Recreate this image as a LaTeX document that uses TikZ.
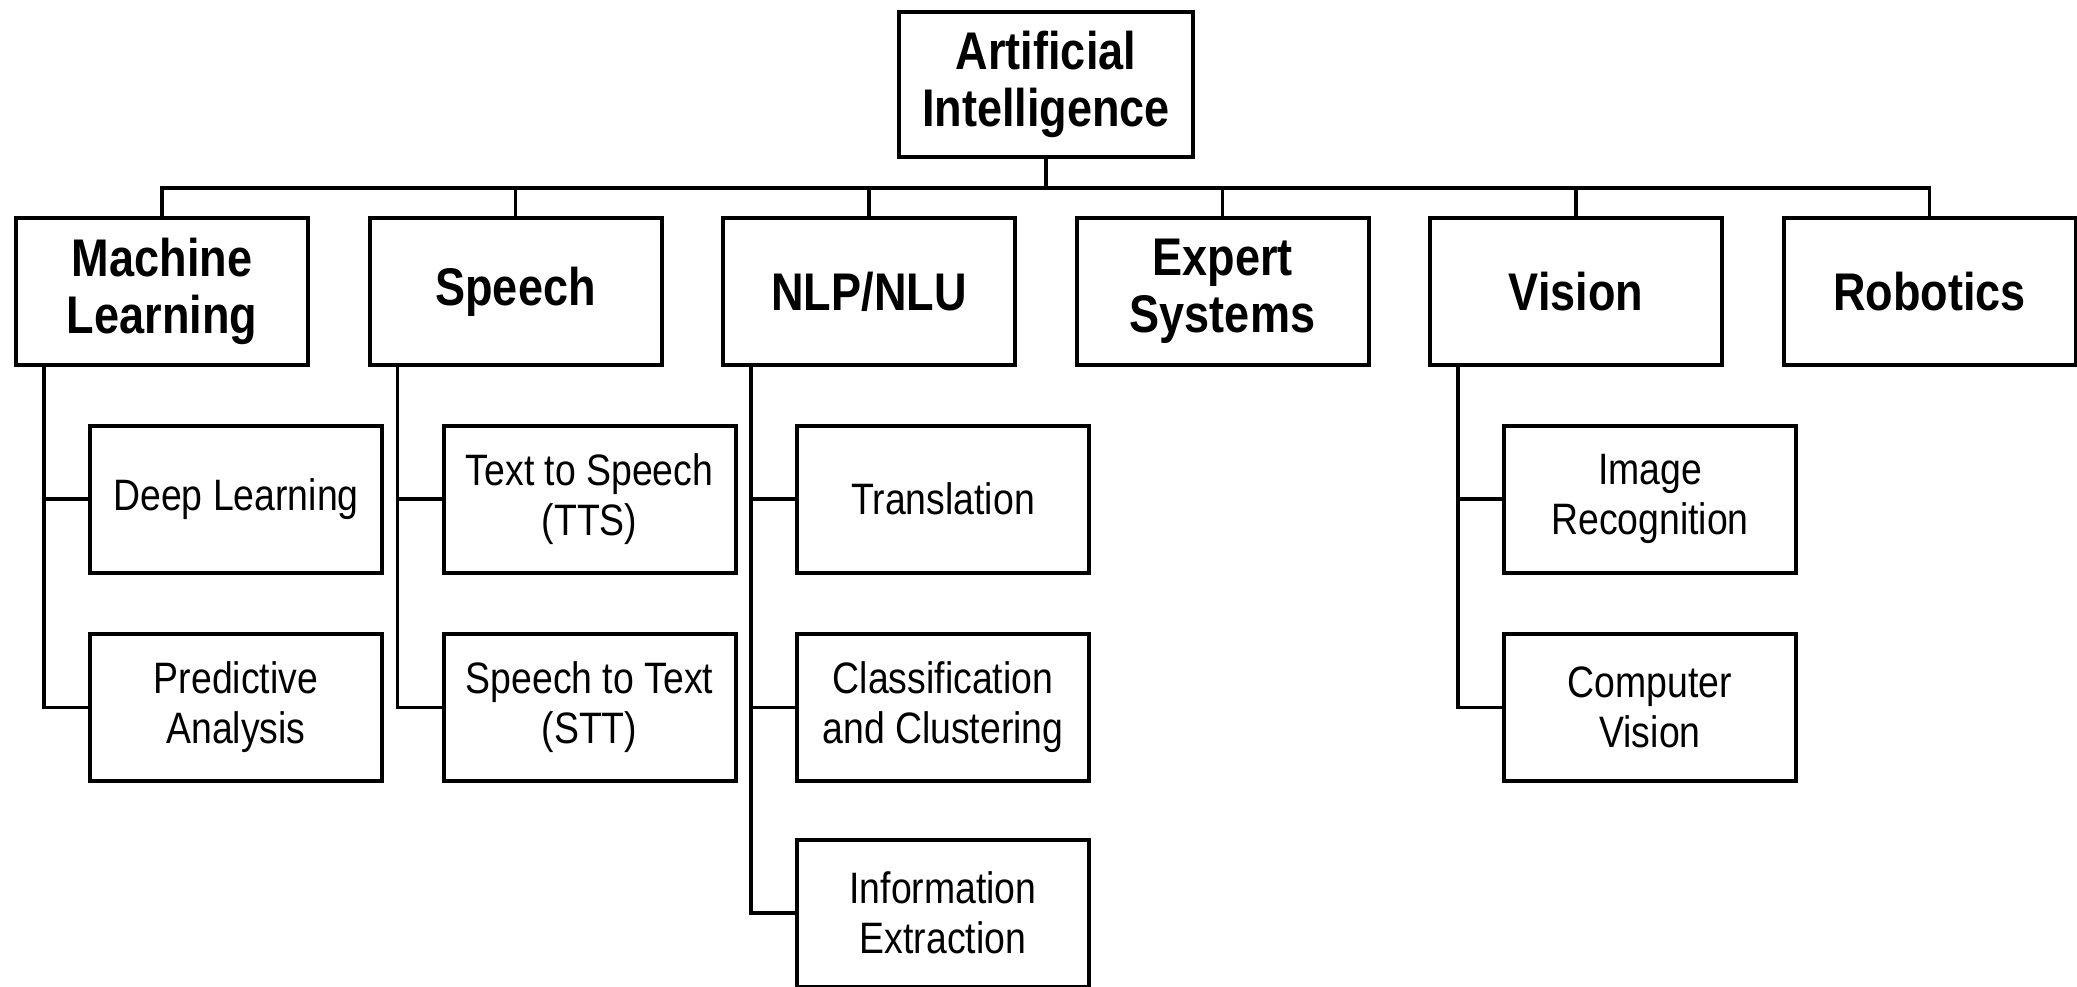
\documentclass[tikz,border=0pt]{standalone}
\usepackage{fontspec}
\setmainfont{Liberation Sans}[FakeStretch=0.85]
\usetikzlibrary{calc}

\tikzset{
  box/.style={draw=black, line width=4bp, fill=white, rectangle, inner sep=0pt,
    outer sep=0pt, minimum width=292bp, align=center},
  topbox/.style={box, minimum height=147bp,
    font=\fontsize{53bp}{57bp}\selectfont\bfseries},
  rootbox/.style={box, minimum width=294bp, minimum height=145bp,
    font=\fontsize{53bp}{57bp}\selectfont\bfseries},
  subbox/.style={box, minimum height=147bp,
    font=\fontsize{44bp}{50bp}\selectfont},
  link/.style={draw=black, line width=3.6bp, line join=miter}
}

\begin{document}
\begin{tikzpicture}[x=1bp, y=-1bp]
  \useasboundingbox[fill=white] (0,0) rectangle (2077,987);

  % root
  \node[rootbox] (ai) at (1046,84) {Artificial\\Intelligence};

  % first level
  \node[topbox] (ml)  at (162,291.5)    {Machine\\Learning};
  \node[topbox] (sp)  at (515.5,291.5)  {Speech};
  \node[topbox] (nlp) at (869,291.5)    {NLP/NLU};
  \node[topbox] (es)  at (1222.5,291.5) {Expert\\Systems};
  \node[topbox] (vis) at (1576,291.5)   {Vision};
  \node[topbox] (rob) at (1929.5,291.5) {Robotics};

  % second level
  \node[subbox] (dl)  at (236,499)     {Deep Learning};
  \node[subbox] (pa)  at (236,707.5)   {Predictive\\Analysis};
  \node[subbox] (tts) at (589.5,499)   {Text to Speech\\(TTS)};
  \node[subbox] (stt) at (589.5,707.5) {Speech to Text\\(STT)};
  \node[subbox] (tr)  at (943,499)     {Translation};
  \node[subbox] (cc)  at (943,707.5)   {Classification\\and Clustering};
  \node[subbox] (ie)  at (943,913)     {Information\\Extraction};
  \node[subbox] (ir)  at (1650,499)    {Image\\Recognition};
  \node[subbox] (cv)  at (1650,707.5)  {Computer\\Vision};

  % distribution bar under the root
  \coordinate (bar) at ($(ml.north)+(0,-30)$);
  \draw[link] (ml.north) -- (bar) -| (rob.north);
  \draw[link] (ai.south) -- (ai.south |- bar);
  \foreach \n in {sp,nlp,es,vis}
    \draw[link] (\n.north) -- (\n.north |- bar);

  % trunks down the left side of each branch
  \coordinate (tml)  at ($(ml.south west)+(28,0)$);
  \coordinate (tsp)  at ($(sp.south west)+(28,0)$);
  \coordinate (tnlp) at ($(nlp.south west)+(28,0)$);
  \coordinate (tvis) at ($(vis.south west)+(28,0)$);

  \draw[link] (tml) |- (pa.west);
  \draw[link] (dl.west) -- (dl.west -| tml);
  \draw[link] (tsp) |- (stt.west);
  \draw[link] (tts.west) -- (tts.west -| tsp);
  \draw[link] (tnlp) |- (ie.west);
  \draw[link] (tr.west) -- (tr.west -| tnlp);
  \draw[link] (cc.west) -- (cc.west -| tnlp);
  \draw[link] (tvis) |- (cv.west);
  \draw[link] (ir.west) -- (ir.west -| tvis);
\end{tikzpicture}
\end{document}
